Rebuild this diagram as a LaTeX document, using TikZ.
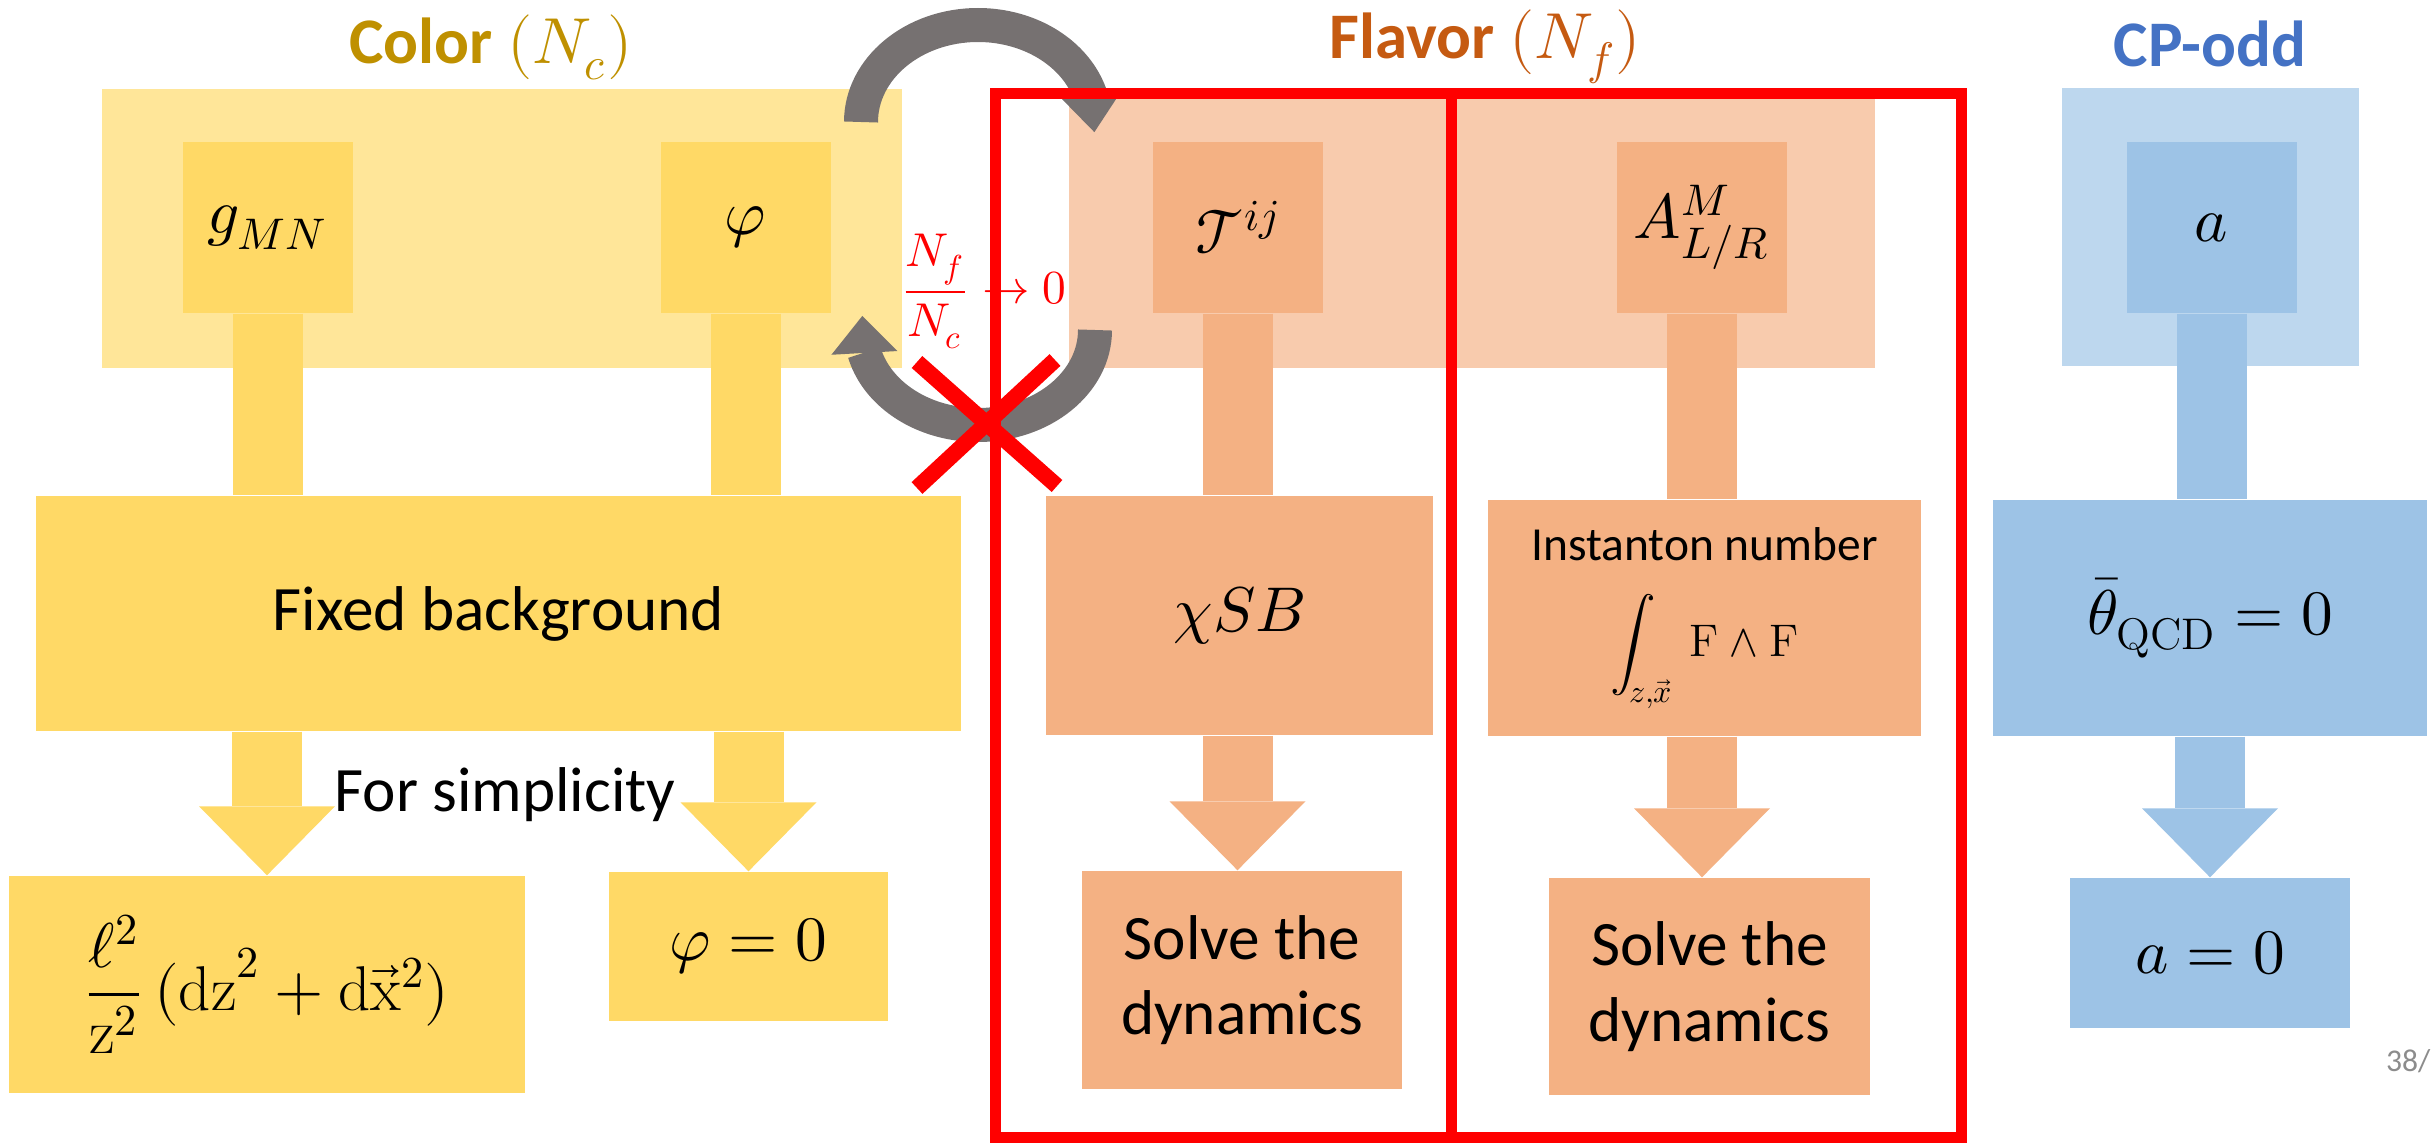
\documentclass[tikz,border=0pt]{standalone}
\usepackage{amsmath}
\usepackage{fontspec}
\usepackage{unicode-math}
\setmainfont{Carlito}
\setmathrm{Latin Modern Roman}
\usetikzlibrary{arrows.meta, bending}

\definecolor{colorlight}{HTML}{FFE699}
\definecolor{colordark}{HTML}{FFD966}
\definecolor{colortitle}{HTML}{BF9000}
\definecolor{flavorlight}{HTML}{F8CBAD}
\definecolor{flavordark}{HTML}{F4B183}
\definecolor{flavortitle}{HTML}{C55A11}
\definecolor{cplight}{HTML}{BDD7EE}
\definecolor{cpdark}{HTML}{9DC3E6}
\definecolor{cptitle}{HTML}{4472C4}
\definecolor{swirlgray}{HTML}{767171}
\definecolor{pagegray}{HTML}{8C8C8C}

\newcommand{\bodyfont}{\fontsize{18}{21.5}\selectfont}

\begin{document}
\begin{tikzpicture}[
    box/.style={inner sep=0pt, align=center, font=\bodyfont},
    field/.style={box, minimum width=1.7cm, minimum height=1.71cm},
    title/.style={inner sep=0pt, font=\fontsize{18.5}{22}\selectfont},
    stem/.style={line width=0.7cm},
    blockarrow/.style={line width=0.7cm, -{Triangle[width=1.36cm,length=0.69cm,line width=0pt]}},
    swirl/.style={swirlgray, line width=0.34cm},
    redframe/.style={red, line width=0.11cm},
    redx/.style={red, line width=0.16cm}
  ]
  \useasboundingbox (0,0) rectangle (24.33,-11.43);

  \node[title, text=colortitle] (coltitle) at (4.91,-0.47) {\textbf{Color} $(N_c)$};
  \node[title, text=flavortitle] (flatitle) at (14.85,-0.47) {\textbf{Flavor} $(N_f)$};
  \node[title, text=cptitle] (cptitle) at (22.10,-0.44) {\textbf{CP-odd}};

  \fill[colorlight] (1.02,-0.89) rectangle (9.02,-3.68);
  \fill[flavorlight] (10.69,-0.89) rectangle (18.75,-3.68);
  \fill[cplight] (20.62,-0.88) rectangle (23.59,-3.66);

  \node[field, fill=colordark] (gmn) at (2.675,-2.275) {$g_{MN}$};
  \node[field, fill=colordark] (phi) at (7.455,-2.275) {$\varphi$};
  \node[field, fill=flavordark] (tij) at (12.375,-2.275) {$\mathcal{T}^{ij}$};
  \node[field, fill=flavordark] (amu) at (17.02,-2.275) {$A^{M}_{L/R}$};
  \node[field, fill=cpdark] (axion) at (22.115,-2.275) {$a$};

  \node[box, fill=colordark, minimum width=9.25cm, minimum height=2.35cm] (fb) at (4.985,-6.135) {Fixed background};
  \node[box, fill=flavordark, minimum width=3.87cm, minimum height=2.39cm] (chi) at (12.395,-6.155) {$\chi SB$};
  \node[box, fill=flavordark, minimum width=4.33cm, minimum height=2.36cm] (inst) at (17.045,-6.18)
    {\fontsize{13.5}{16}\selectfont Instanton number\\[6pt]
     \fontsize{13}{16}\selectfont $\displaystyle\int_{z,\vec{x}}\,\mathrm{F}\wedge\mathrm{F}$};
  \node[box, fill=cpdark, minimum width=4.34cm, minimum height=2.36cm] (thb) at (22.10,-6.18) {$\bar{\theta}_{\mathrm{QCD}}=0$};

  \node[box, fill=colordark, minimum width=5.16cm, minimum height=2.17cm] (metric) at (2.67,-9.845)
    {$\displaystyle\frac{\ell^2}{\mathrm{z}^2}\,(\mathrm{dz}^2+\mathrm{d}\vec{\mathrm{x}}^2)$};
  \node[box, fill=colordark, minimum width=2.79cm, minimum height=1.49cm] (phz) at (7.485,-9.465) {$\varphi=0$};
  \node[box, fill=flavordark, minimum width=3.2cm, minimum height=2.18cm] (sol1) at (12.42,-9.80) {Solve the\\dynamics};
  \node[box, fill=flavordark, minimum width=3.21cm, minimum height=2.17cm] (sol2) at (17.095,-9.865) {Solve the\\dynamics};
  \node[box, fill=cpdark, minimum width=2.8cm, minimum height=1.5cm] (azero) at (22.10,-9.53) {$a=0$};

  \draw[stem, colordark] (gmn.south) -- (gmn.south |- fb.north);
  \draw[stem, colordark] (phi.south) -- (phi.south |- fb.north);
  \draw[stem, flavordark] (tij.south) -- (tij.south |- chi.north);
  \draw[stem, flavordark] (amu.south) -- (amu.south |- inst.north);
  \draw[stem, cpdark] (axion.south) -- (axion.south |- thb.north);

  \draw[blockarrow, colordark] (metric.north |- fb.south) -- (metric.north);
  \draw[blockarrow, colordark] (phz.north |- fb.south) -- (phz.north);
  \draw[blockarrow, flavordark] (tij.south |- chi.south) -- (tij.south |- sol1.north);
  \draw[blockarrow, flavordark] (amu.south |- inst.south) -- (amu.south |- sol2.north);
  \draw[blockarrow, cpdark] (thb.south) -- (azero.north);

  \node[box] (simp) at (5.05,-7.95) {For simplicity};

  \draw[swirl, -{Triangle[width=0.58cm,length=0.36cm,line width=0pt]}]
    (8.61,-1.22) arc[start angle=180, end angle=-6, x radius=1.17cm, y radius=0.97cm];
  \draw[swirl, -{Triangle[width=0.66cm,length=0.37cm,line width=0pt]}]
    (10.95,-3.30) arc[start angle=0, end angle=-188.5, x radius=1.17cm, y radius=0.95cm];

  \draw[redframe] (9.95,-0.93) rectangle (14.51,-11.37);
  \draw[redframe] (14.51,-0.93) rectangle (19.61,-11.37);

  \node[inner sep=0pt, text=red, font=\fontsize{13.5}{16}\selectfont] (ratio) at (9.84,-2.915)
    {$\displaystyle\frac{N_f}{N_c}\to 0$};

  \coordinate (xa) at (9.17,-3.62);
  \coordinate (xb) at (10.57,-4.86);
  \coordinate (xc) at (10.55,-3.60);
  \coordinate (xd) at (9.17,-4.88);
  \draw[redx] (xa) -- (xb);
  \draw[redx] (xc) -- (xd);

  \node[inner sep=0pt, anchor=east, text=pagegray, font=\fontsize{9}{10}\selectfont] (pagenum) at (24.31,-10.61) {38/};
\end{tikzpicture}
\end{document}
